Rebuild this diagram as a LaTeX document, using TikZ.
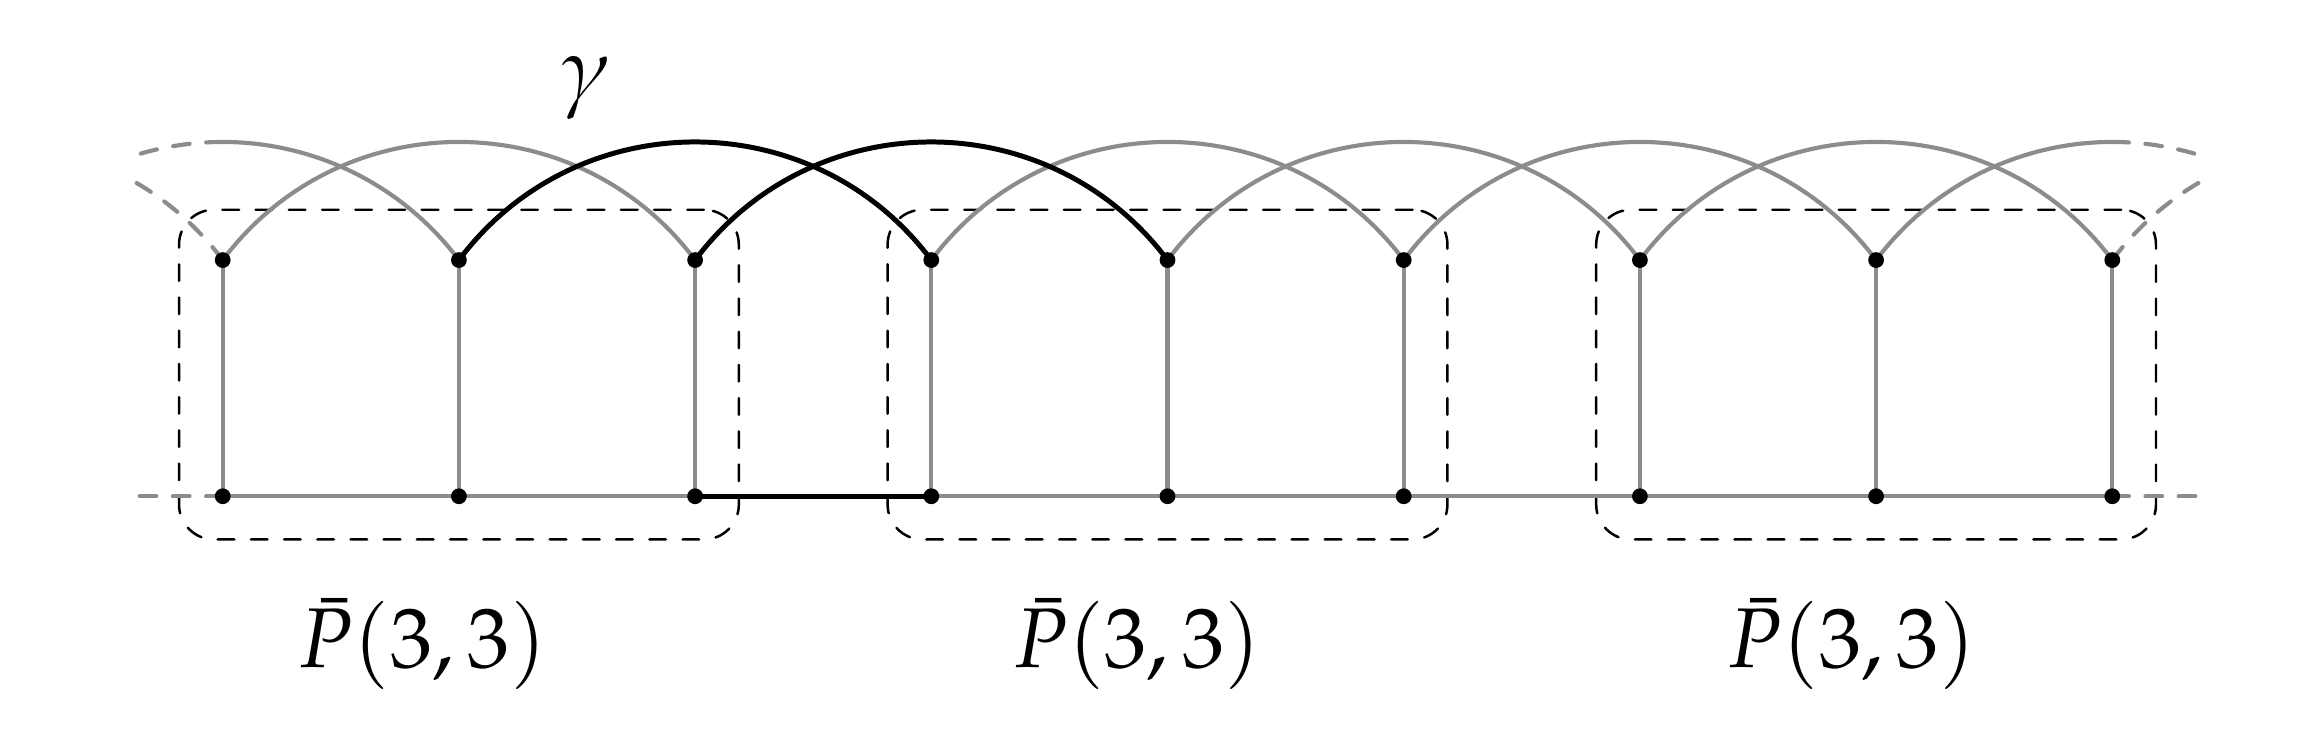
\documentclass[tikz,border=0pt]{standalone}
\usepackage{mathpazo}
\DeclareSymbolFont{pxletters}{OML}{pxmi}{m}{it}
\DeclareMathSymbol{\pxgamma}{\mathord}{pxletters}{"0D}
\usetikzlibrary{calc}
\definecolor{edgegray}{RGB}{140,140,140}
\tikzset{
  gedge/.style={draw=edgegray, line width=0.5pt},
  bedge/.style={draw=black, line width=0.6pt},
  gdash/.style={draw=edgegray, line width=0.5pt, dash pattern=on 2pt off 2pt, line cap=round},
  pbox/.style={draw=black, line width=0.3pt, dash pattern=on 2pt off 2pt, line cap=round,
    rounded corners=4.2pt, rectangle, minimum width=2.37cm, minimum height=1.396cm, inner sep=0pt},
  vdot/.style={circle, fill=black, inner sep=0pt, minimum size=1.9pt},
  lab/.style={inner sep=0pt, font=\fontsize{10.2}{12}\selectfont}
}
\begin{document}
\begin{tikzpicture}
\useasboundingbox (-0.943,-1.087) rectangle (8.837,2.101);
\foreach \i in {0,...,8}{
  \coordinate (t\i) at (\i,1);
  \coordinate (b\i) at (\i,0);
}
\coordinate (pkL) at (0,1.5);
\coordinate (pkR) at (8,1.5);
\coordinate (eL) at (-0.38,0);
\coordinate (eR) at (8.36,0);

% boxes
\node[pbox] (box1) at (1,0.515) {};
\node[pbox] (box2) at (4,0.515) {};
\node[pbox] (box3) at (7,0.515) {};

% verticals
\foreach \i in {0,...,8}{ \draw[gedge] (t\i) -- (b\i); }

% bottom path
\draw[gedge] (b0) -- (b1) -- (b2);
\draw[gedge] (b3) -- (b4) -- (b5) -- (b6) -- (b7) -- (b8);
\draw[gdash] (b0) -- (eL);
\draw[gdash] (b8) -- (eR);
\draw[bedge] (b2) -- (b3);

% arcs
\foreach \i/\j in {0/2,3/5,4/6,5/7,6/8}{
  \draw[gedge] (t\i) .. controls +(0.5,0.6667) and +(-0.5,0.6667) .. (t\j);
}
\draw[gedge] (pkL) arc[start angle=90, end angle=36.87, radius=1.25];
\draw[gdash] (pkL) arc[start angle=90, end angle=107.7, radius=1.25];
\draw[gdash] (t0) arc[start angle=36.87, end angle=60.3, radius=1.25];
\draw[gedge] (pkR) arc[start angle=90, end angle=143.13, radius=1.25];
\draw[gdash] (pkR) arc[start angle=90, end angle=72.3, radius=1.25];
\draw[gdash] (t8) arc[start angle=143.13, end angle=119.7, radius=1.25];
\draw[bedge] (t1) .. controls +(0.5,0.6667) and +(-0.5,0.6667) .. (t3);
\draw[bedge] (t2) .. controls +(0.5,0.6667) and +(-0.5,0.6667) .. (t4);

% dots
\foreach \i in {0,...,8}{
  \node[vdot] (dt\i) at (t\i) {};
  \node[vdot] (db\i) at (b\i) {};
}

% labels
\node[lab] (gam) at (1.54,1.726) {$\pxgamma$};
\node[lab] (l1) at (0.845,-0.626) {$\bar{P}(3,3)$};
\node[lab] (l2) at (3.87,-0.626) {$\bar{P}(3,3)$};
\node[lab] (l3) at (6.895,-0.626) {$\bar{P}(3,3)$};
\end{tikzpicture}
\end{document}
